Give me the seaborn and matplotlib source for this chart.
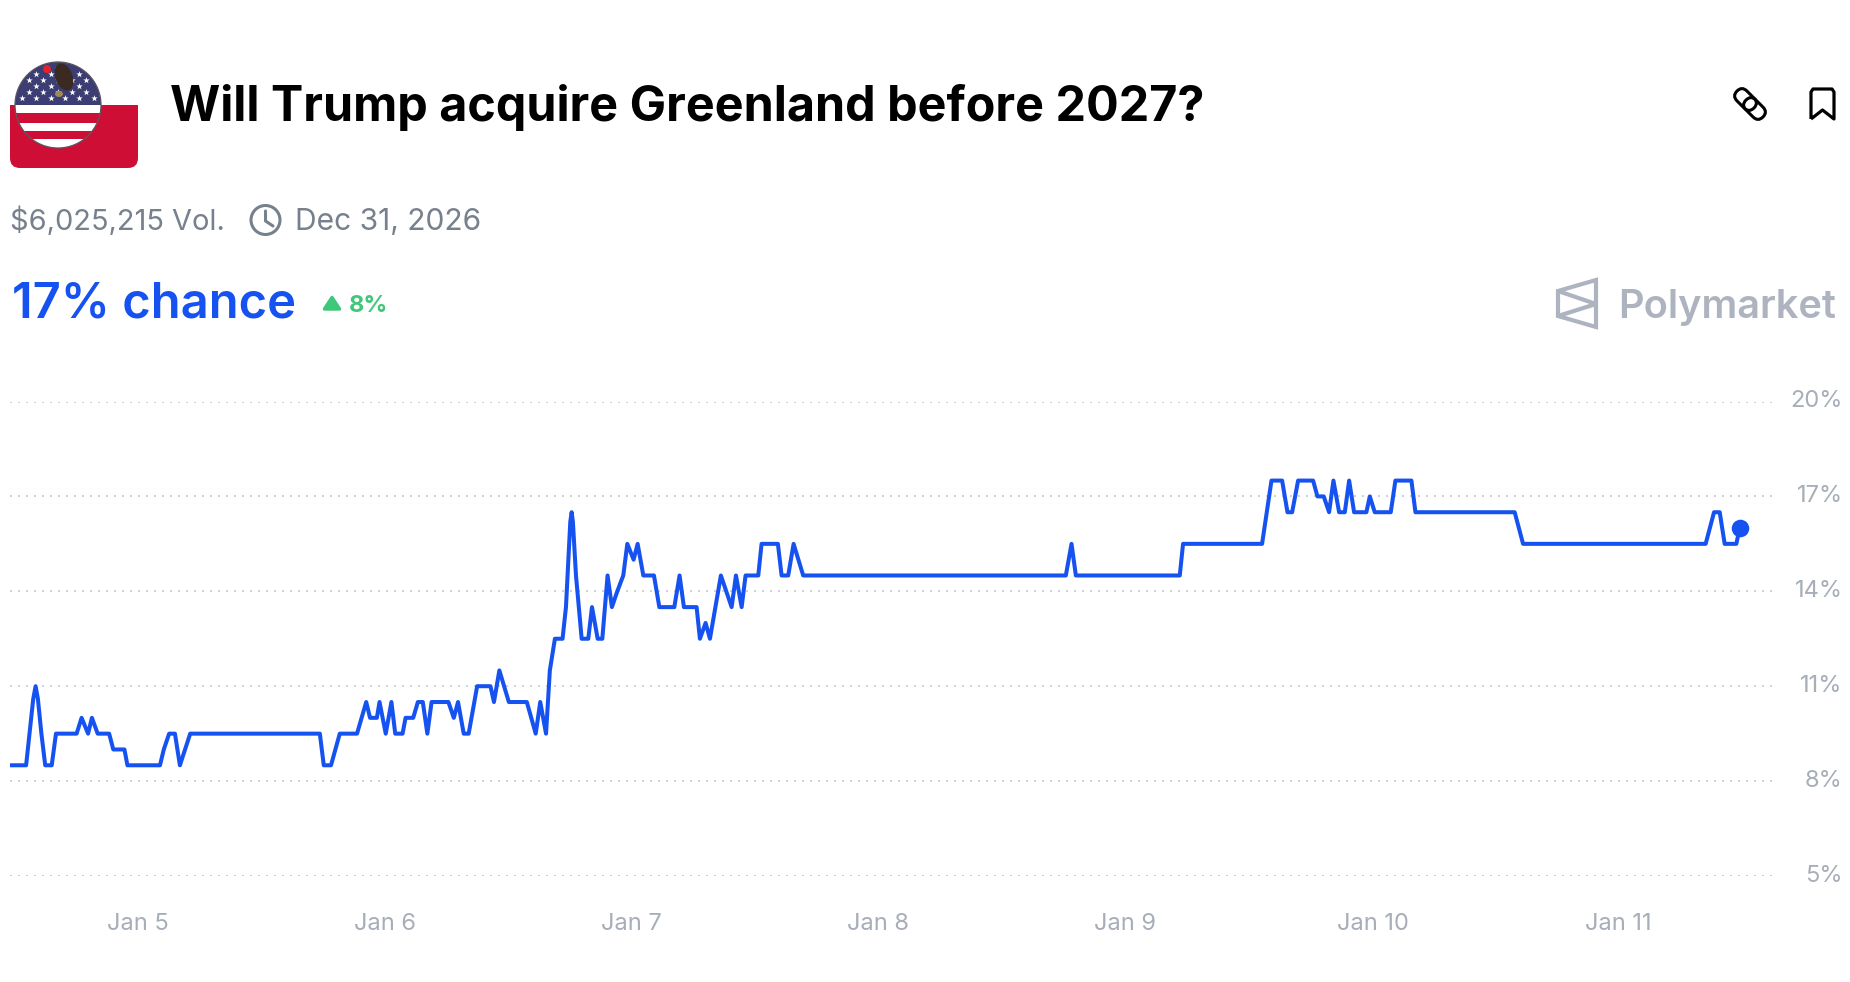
import matplotlib
matplotlib.use("Agg")
import matplotlib.pyplot as plt
import matplotlib.patches as mpatches
from matplotlib.path import Path
from matplotlib.transforms import Affine2D
import seaborn as sns
import pandas as pd

# hours since Jan 5 00:00
hours = [
    -12.30, -10.74, -10.05, -9.82, -9.60, -9.26, -8.89, -8.26, -7.85, -5.85, -5.37, -4.74, -4.37, -3.81,
    -2.70, -2.30, -1.22, -0.93, 2.22, 2.59, 3.11, 3.67, 4.15, 5.15, 17.70, 18.08, 18.78,
    19.63, 21.30, 21.74, 22.19, 22.56, 23.22, 23.48, 24.08, 24.63, 25.00, 25.71, 26.00,
    26.74, 27.19, 27.67, 28.11, 28.52, 30.15, 30.67, 31.08, 31.63, 32.11, 32.93, 34.22,
    34.56, 35.08, 36.00, 37.74, 38.60, 39.04, 39.60, 39.97, 40.46, 41.20, 41.53, 41.95, 42.08, 42.20,
    42.50, 43.05, 43.69, 44.05, 44.60, 45.05, 45.56, 45.98, 46.50, 47.08, 47.47, 48.08,
    48.47, 49.02, 50.05, 50.57, 52.02, 52.53, 52.95, 54.18, 54.50, 55.05, 55.47, 56.53,
    57.57, 57.99, 58.54, 58.92, 60.15, 60.47, 62.05, 62.41, 63.05, 63.57, 64.50, 89.93,
    90.48, 90.90, 100.96, 101.28, 108.93, 109.84, 110.87, 111.39, 111.84, 112.42, 113.87,
    114.29, 114.90, 115.42, 115.84, 116.39, 116.94, 117.36, 117.84, 119.03, 119.36, 119.84,
    121.39, 121.84, 123.39, 123.78, 133.39, 134.20, 151.88, 152.69, 153.24, 153.72, 154.85,
    155.18,
]
chance = [
    8.5, 8.5, 10.6, 11, 10.6, 9.5, 8.5, 8.5, 9.5, 9.5, 10, 9.5, 10, 9.5,
    9.5, 9, 9, 8.5, 8.5, 9, 9.5, 9.5, 8.5, 9.5, 9.5, 8.5, 8.5,
    9.5, 9.5, 10, 10.5, 10, 10, 10.5, 9.5, 10.5, 9.5, 9.5, 10,
    10, 10.5, 10.5, 9.5, 10.5, 10.5, 10, 10.5, 9.5, 9.5, 11, 11,
    10.5, 11.5, 10.5, 10.5, 9.5, 10.5, 9.5, 11.5, 12.5, 12.5, 13.5, 16.2, 16.5, 16.2,
    14.5, 12.5, 12.5, 13.5, 12.5, 12.5, 14.5, 13.5, 14, 14.5, 15.5, 15,
    15.5, 14.5, 14.5, 13.5, 13.5, 14.5, 13.5, 13.5, 12.5, 13, 12.5, 14.5,
    13.5, 14.5, 13.5, 14.5, 14.5, 15.5, 15.5, 14.5, 14.5, 15.5, 14.5, 14.5,
    15.5, 14.5, 14.5, 15.5, 15.5, 17.5, 17.5, 16.5, 16.5, 17.5, 17.5,
    17, 17, 16.5, 17.5, 16.5, 16.5, 17.5, 16.5, 16.5, 17, 16.5,
    16.5, 17.5, 17.5, 16.5, 16.5, 15.5, 15.5, 16.5, 16.5, 15.5, 15.5,
    16,
]
y_ticks = [5, 8, 11, 14, 17, 20]
x_tick_hours = [0.07, 24.0, 47.9, 71.7, 95.7, 119.7, 143.4]
x_tick_labels = ["Jan 5", "Jan 6", "Jan 7", "Jan 8", "Jan 9", "Jan 10", "Jan 11"]

BLUE = "#1652f0"
GRAY = "#aeb4bf"
TICK_GRAY = "#a7aeb9"
SLATE = "#77808d"
GREEN = "#3fc77a"
W, H = 1850, 982

start = pd.Timestamp("2026-01-05")
df = pd.DataFrame({"time": start + pd.to_timedelta(hours, unit="h"), "chance": chance})

sns.set_theme(style="white")
plt.rcParams["font.family"] = ["Inter", "DejaVu Sans"]

fig = plt.figure(figsize=(W / 100, H / 100), dpi=100, facecolor="white")

# -------- CHART --------
ax = fig.add_axes([10 / W, (H - 876) / H, (1773 - 10) / W, (876 - 401.5) / H])
sns.lineplot(data=df, x="time", y="chance", color=BLUE, linewidth=2.9, estimator=None,
             sort=False, ax=ax, zorder=3, solid_joinstyle="round", solid_capstyle="round")
sns.scatterplot(data=df.tail(1), x="time", y="chance", color=BLUE, s=160, linewidth=0,
                ax=ax, zorder=4)

ax.set_ylim(5, 20)
ax.set_xlim(start + pd.to_timedelta(-12.30, unit="h"), start + pd.to_timedelta(158.4, unit="h"))
ax.set_xlabel("")
ax.set_ylabel("")
ax.set_yticks(y_ticks)
ax.set_yticklabels([f"{v}%" for v in y_ticks], ha="right", color=TICK_GRAY, fontsize=17)
ax.yaxis.tick_right()
ax.tick_params(axis="y", length=0, pad=50.2)
ax.set_xticks(start + pd.to_timedelta(x_tick_hours, unit="h"))
ax.set_xticklabels(x_tick_labels, color=TICK_GRAY, fontsize=17)
ax.tick_params(axis="x", length=0, pad=26.5)
ax.grid(axis="y", color="#cfd1d6", linewidth=1.44, linestyle=(0, (1, 3)))
ax.grid(axis="x", visible=False)
sns.despine(ax=ax, left=True, bottom=True)
for lab in ax.get_yticklabels():
    lab.set_transform(lab.get_transform() + Affine2D().translate(0, 3))

# -------- HEADER (pixel coordinates) --------
top = fig.add_axes([0, 0, 1, 1], zorder=5)
top.set_xlim(0, W)
top.set_ylim(H, 0)
top.axis("off")

top.text(170, 121, "Will Trump acquire Greenland before 2027?", fontsize=34.9, fontweight="bold",
         color="black", va="baseline", ha="left")
top.text(10, 230, "$6,025,215 Vol.", fontsize=20.9, color=SLATE, va="baseline")
top.text(295, 230, "Dec 31, 2026", fontsize=21.6, color=SLATE, va="baseline")
top.text(12, 317, "17% chance", fontsize=35.2, fontweight="semibold", color=BLUE, va="baseline")
top.text(349, 311.5, "8%", fontsize=17, fontweight="bold", color=GREEN, va="baseline")
top.text(1618, 318, "Polymarket", fontsize=28.6, fontweight="semibold", color=GRAY, va="baseline")

# green up triangle
top.add_patch(mpatches.Polygon([(332, 297.5), (339.5, 309), (324.5, 309)], closed=True, facecolor=GREEN,
                               edgecolor=GREEN, linewidth=2.5, joinstyle="round"))

# clock icon
top.add_patch(mpatches.Circle((265.5, 220), 14.5, fill=False, edgecolor=SLATE, linewidth=2.2))
top.plot([265.5, 265.5, 273], [211, 221, 226], color=SLATE, linewidth=2.2, solid_capstyle="round",
         solid_joinstyle="round")

# polymarket logo
top.add_patch(mpatches.Polygon([(1558, 291), (1596, 280), (1596, 327), (1558, 316)], closed=True,
                               fill=False, edgecolor=GRAY, linewidth=3, joinstyle="miter"))
top.plot([1558, 1596, 1558], [291, 304, 316], color=GRAY, linewidth=3)

# bookmark
bookmark = Path([(1811, 119), (1811, 92), (1813, 89), (1832, 89), (1834, 92), (1834, 119),
                 (1822.5, 110), (1811, 119)])
top.add_patch(mpatches.PathPatch(bookmark, fill=False, edgecolor="black", linewidth=2.3,
                                 joinstyle="round"))

# link icon
for cx, cy in [(1745.5, 99.5), (1754.5, 108.5)]:
    rot = Affine2D().rotate_deg_around(cx, cy, 45) + top.transData
    top.add_patch(mpatches.FancyBboxPatch((cx - 5, cy), 10, 0, boxstyle="round,pad=7,rounding_size=7",
                                          fill=False, edgecolor="black", linewidth=2.2, transform=rot))

# flag icon
top.add_patch(mpatches.FancyBboxPatch((20, 115), 108, 43, boxstyle="round,pad=10,rounding_size=10",
                                      facecolor="#cf0e36", edgecolor="none"))
top.add_patch(mpatches.Rectangle((10, 105), 128, 20, facecolor="#cf0e36", edgecolor="none"))
disc = mpatches.Circle((58, 105), 43, facecolor="white", edgecolor="none")
top.add_patch(disc)
top.add_patch(mpatches.Rectangle((10, 60), 100, 45, facecolor="#3b3d73", edgecolor="none",
                                 clip_path=disc))
for y0, y1 in [(113, 123), (131, 139)]:
    top.add_patch(mpatches.Rectangle((10, y0), 100, y1 - y0, facecolor="#cf0e36", edgecolor="none",
                                     clip_path=disc))
top.add_patch(mpatches.Circle((58, 105), 43, fill=False, edgecolor="#5c5560", linewidth=0.9))
for row, y in enumerate([68, 74, 80, 86, 92, 98]):
    x0 = 22 if row % 2 else 29
    xs = [x0 + 14.3 * i for i in range(7)]
    xs = [x for x in xs if (x - 58) ** 2 + (y - 105) ** 2 < 39 ** 2]
    top.scatter(xs, [y] * len(xs), marker="*", s=24, color="white", linewidth=0, zorder=3)
top.add_patch(mpatches.Ellipse((64, 77), 17, 28, angle=-20, facecolor="#3a2a22", edgecolor="none", zorder=4))
top.add_patch(mpatches.Circle((47, 69), 4, facecolor="#e8202a", edgecolor="none", zorder=4))
top.add_patch(mpatches.Ellipse((59, 94), 8, 6, facecolor="#a08a50", edgecolor="none", zorder=4))

fig.savefig("out.png", dpi=100)
plt.close(fig)
